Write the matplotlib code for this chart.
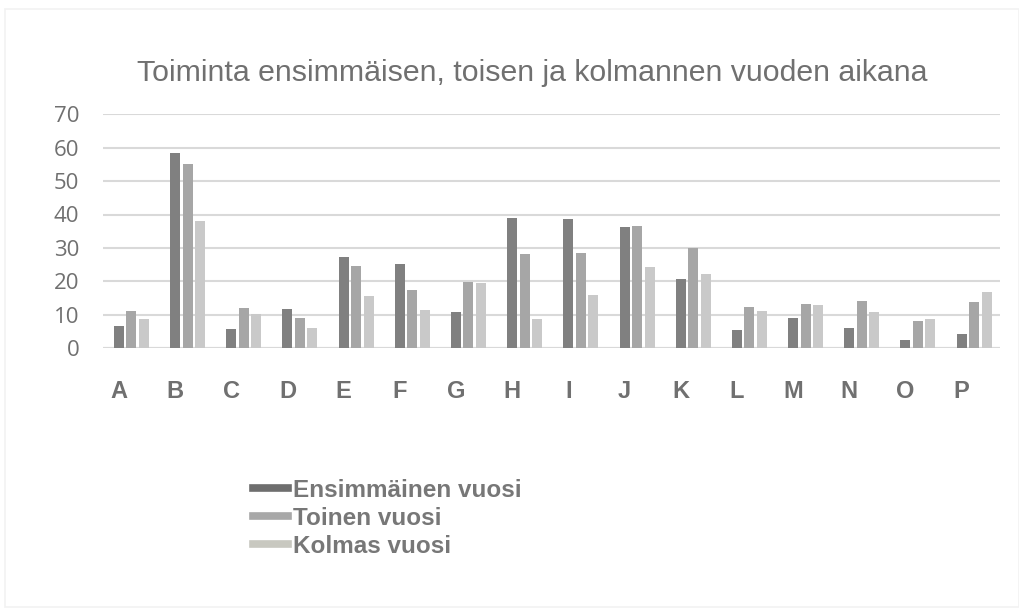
import matplotlib
matplotlib.use('Agg')
import matplotlib.pyplot as plt
from matplotlib.lines import Line2D
from matplotlib.patches import Rectangle
import numpy as np

categories = ['A', 'B', 'C', 'D', 'E', 'F', 'G', 'H', 'I', 'J', 'K', 'L', 'M', 'N', 'O', 'P']
first_year = [6.7, 58.5, 5.8, 11.7, 27.2, 25.3, 10.9, 39.0, 38.6, 36.4, 20.6, 5.6, 9.2, 6.2, 2.4, 4.2]
second_year = [11.2, 55.2, 12.2, 9.2, 24.6, 17.4, 19.7, 28.1, 28.5, 36.7, 29.9, 12.5, 13.4, 14.3, 8.2, 14.0]
third_year = [8.7, 38.1, 10.4, 6.1, 15.7, 11.4, 19.4, 8.7, 16.0, 24.3, 22.3, 11.3, 12.9, 10.8, 8.8, 16.8]
series_names = ['Ensimmäinen vuosi', 'Toinen vuosi', 'Kolmas vuosi']
yticks = [0, 10, 20, 30, 40, 50, 60, 70]

colors = ['#808080', '#a6a6a6', '#c9c9c9']
legend_colors = ['#6e6e6e', '#a8a8a8', '#c8c8c0']
txt = '#707070'

fig = plt.figure(figsize=(10.19, 6.16), dpi=100)
fig.patches.append(Rectangle((0.005, 0.015), 0.995, 0.97, transform=fig.transFigure,
                             fill=False, edgecolor='#f2f2f2', lw=1.2))

ax = fig.add_axes([0.101, 0.4343, 0.880, 0.3806])

x = np.arange(len(categories))
step = 0.222
width = 0.178
for k, vals in enumerate([first_year, second_year, third_year]):
    ax.bar(x + k * step, vals, width, color=colors[k], zorder=3)

ax.set_xlim(-0.285, 15.676)
ax.set_ylim(0, 70)
ax.set_yticks(yticks)
ax.grid(axis='y', color='#d9d9d9', lw=1.5, zorder=0)
ax.axhline(0, color='#d9d9d9', lw=1.5, zorder=2)
for s in ax.spines.values():
    s.set_visible(False)

ax.set_xticks(x)
ax.set_xticklabels(categories, fontsize=17, fontweight='bold', color=txt,
                   family='Liberation Sans')
ax.tick_params(axis='x', length=0, pad=23)
ax.tick_params(axis='y', length=0, pad=17, labelsize=16, labelcolor=txt)
for t in ax.get_yticklabels():
    t.set_family('Open Sans')

fig.text(0.522, 0.882, 'Toiminta ensimmäisen, toisen ja kolmannen vuoden aikana',
         ha='center', va='center', fontsize=21.8, color=txt, family='Liberation Sans')

handles = [Line2D([0], [0], color=c, lw=5.5) for c in legend_colors]
leg = fig.legend(handles, series_names, loc='upper left', bbox_to_anchor=(0.227, 0.258),
                 frameon=False, handlelength=1.45, handletextpad=0.2, labelspacing=0.2,
                 prop={'family': 'Liberation Sans', 'weight': 'bold', 'size': 17.5})
for t in leg.get_texts():
    t.set_color('#777777')

plt.savefig('out.png', dpi=100)
